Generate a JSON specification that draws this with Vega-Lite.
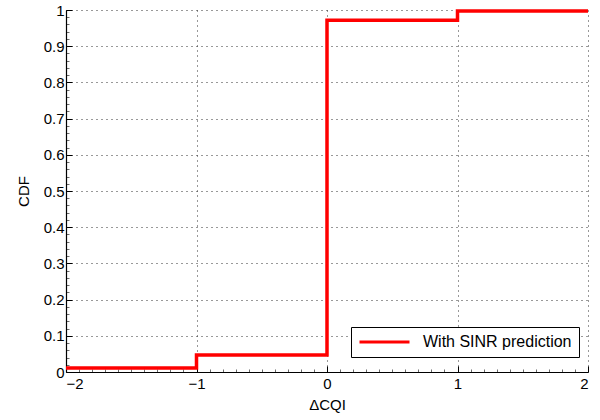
{
  "$schema": "https://vega.github.io/schema/vega-lite/v6.json",
  "width": 522,
  "height": 362,
  "autosize": "none",
  "padding": {"left": 66, "top": 10, "right": 12, "bottom": 48},
  "background": "white",
  "config": {
    "view": {"stroke": null},
    "font": "Liberation Sans",
    "axis": {"labelFont": "Liberation Sans", "titleFont": "Liberation Sans", "labelFontSize": 15, "titleFontSize": 15, "titleFontWeight": "normal", "labelColor": "black", "titleColor": "black", "domainColor": "black", "tickColor": "black"}
  },
  "data": {"values": [
    {"x": -2, "y": 0.011, "s": "With SINR prediction"},
    {"x": -1, "y": 0.047, "s": "With SINR prediction"},
    {"x": 0, "y": 0.972, "s": "With SINR prediction"},
    {"x": 1, "y": 0.997, "s": "With SINR prediction"},
    {"x": 2, "y": 0.997, "s": "With SINR prediction"}
  ]},
  "layer": [
    {
      "mark": {"type": "rule", "opacity": 0},
      "encoding": {
        "x": {"field": "x", "type": "quantitative", "scale": {"domain": [-2, 2], "nice": false, "zero": false},
          "axis": {"orient": "bottom", "values": [-2,-1.9,-1.8,-1.7,-1.6,-1.5,-1.4,-1.3,-1.2,-1.1,-1,-0.9,-0.8,-0.7,-0.6,-0.5,-0.4,-0.3,-0.2,-0.1,0,0.1,0.2,0.3,0.4,0.5,0.6,0.7,0.8,0.9,1,1.1,1.2,1.3,1.4,1.5,1.6,1.7,1.8,1.9,2], "labels": false, "title": null, "domain": false, "grid": false, "tickSize": -3, "tickWidth": 0.8, "tickColor": "#444"}},
        "y": {"field": "y", "type": "quantitative", "scale": {"domain": [0, 1], "nice": false},
          "axis": {"orient": "left", "values": [0,0.02,0.04,0.06,0.08,0.1,0.12,0.14,0.16,0.18,0.2,0.22,0.24,0.26,0.28,0.3,0.32,0.34,0.36,0.38,0.4,0.42,0.44,0.46,0.48,0.5,0.52,0.54,0.56,0.58,0.6,0.62,0.64,0.66,0.68,0.7,0.72,0.74,0.76,0.78,0.8,0.82,0.84,0.86,0.88,0.9,0.92,0.94,0.96,0.98,1], "labels": false, "title": null, "domain": false, "grid": false, "tickSize": -3, "tickWidth": 0.8, "tickColor": "#444"}}
      }
    },
    {
      "mark": {"type": "line", "interpolate": "step-after", "color": "#ff0000", "strokeWidth": 3.5},
      "encoding": {
        "x": {"field": "x", "type": "quantitative", "scale": {"domain": [-2, 2], "nice": false, "zero": false},
          "axis": {"orient": "bottom", "values": [-2, -1, 0, 1, 2], "format": "d", "title": "ΔCQI", "titlePadding": 6, "grid": true, "gridDash": [1, 4], "gridColor": "#333", "gridOpacity": 1, "tickSize": -6, "labelPadding": 10, "domainWidth": 1.2}},
        "y": {"field": "y", "type": "quantitative", "scale": {"domain": [0, 1], "nice": false},
          "axis": {"orient": "left", "values": [0, 0.1, 0.2, 0.3, 0.4, 0.5, 0.6, 0.7, 0.8, 0.9, 1], "format": "~g", "title": "CDF", "titlePadding": 12, "grid": true, "gridDash": [1, 4], "gridColor": "#333", "gridOpacity": 1, "tickSize": -6, "labelPadding": 8, "domainWidth": 1.2}},
        "color": {"field": "s", "type": "nominal", "scale": {"range": ["#ff0000"]},
          "legend": {"title": null, "orient": "none", "legendX": 285, "legendY": 317, "symbolType": "stroke", "symbolSize": 2500, "symbolStrokeWidth": 3, "clipHeight": 16, "labelFontSize": 16, "labelFont": "Liberation Sans", "labelColor": "black", "strokeColor": "black", "fillColor": "white", "padding": 7, "labelOffset": 12}}
      }
    }
  ],
  "resolve": {"axis": {"x": "independent", "y": "independent"}}
}
